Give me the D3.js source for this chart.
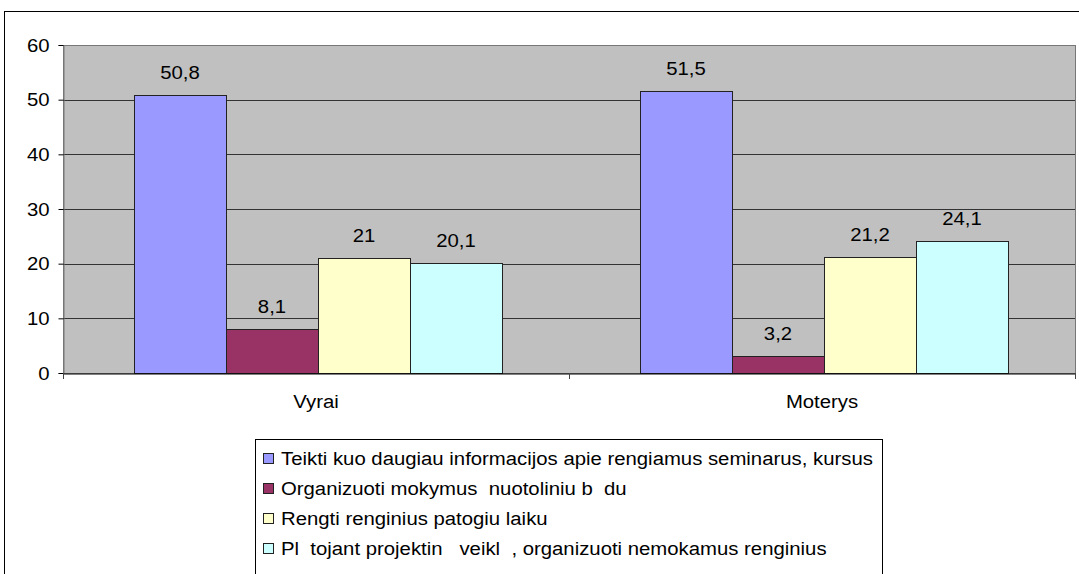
<!DOCTYPE html>
<html>
<head>
<meta charset="utf-8">
<script src="https://cdn.jsdelivr.net/npm/d3@7"></script>
<style>
  body { margin: 0; background: #fff; }
  text { font-family: "Liberation Sans", Arial, sans-serif; fill: #000; white-space: pre; }
</style>
</head>
<body>
<svg id="mysvg" width="1079" height="574"></svg>
<script>
// data
const categories = ["Vyrai", "Moterys"];
const seriesNames = [
  "Teikti kuo daugiau informacijos apie rengiamus seminarus, kursus",
  "Organizuoti mokymus  nuotoliniu b  du",
  "Rengti renginius patogiu laiku",
  "Pl  tojant projektin   veikl  , organizuoti nemokamus renginius"
];
const vyraiValues = [50.8, 8.1, 21, 20.1];
const moterysValues = [51.5, 3.2, 21.2, 24.1];
const yTicks = [0, 10, 20, 30, 40, 50, 60];
const colors = ["#9999ff", "#993366", "#ffffcc", "#ccffff"];

const values = [vyraiValues, moterysValues];
const stretch = 1.13;   // the original text is a bit wider than Liberation Sans

// place a text at (x,y) with horizontal stretch
function placeText(sel, fx, fy) {
  sel.attr("x", 0).attr("y", 0)
    .attr("transform", function(d, i) {
      return "translate(" + fx(d, i) + "," + fy(d, i) + ") scale(" + stretch + ",1)";
    });
}

var svg = d3.select("#mysvg");

// outer chart border
svg.append("rect")
  .attr("x", 4.5).attr("y", 11.5)
  .attr("width", 1100).attr("height", 600)
  .attr("fill", "none").attr("stroke", "#000");

const plot = { left: 63, right: 1075, top: 45, bottom: 373 };

var x0 = d3.scaleBand()
  .domain(categories)
  .range([plot.left, plot.right]);

var x1 = d3.scaleBand()
  .domain(d3.range(seriesNames.length))
  .range([71, 71 + 368]);

var y = d3.scaleLinear().domain([0, 60]).range([plot.bottom, plot.top]);

// plot background
svg.append("rect")
  .attr("x", plot.left + 0.5).attr("y", plot.top + 0.5)
  .attr("width", plot.right - plot.left).attr("height", plot.bottom - plot.top)
  .attr("fill", "#c0c0c0")
  .attr("stroke", "#777");

// gridlines
svg.append("g")
  .selectAll("line")
  .data(yTicks.filter(d => d > 0 && d < 60))
  .enter().append("line")
  .attr("x1", plot.left).attr("x2", plot.right)
  .attr("y1", d => Math.round(y(d)) + 0.5)
  .attr("y2", d => Math.round(y(d)) + 0.5)
  .attr("stroke", "#333");

// y axis
var yAxis = svg.append("g")
  .attr("transform", "translate(" + (plot.left + 0.5) + ",0)")
  .call(d3.axisLeft(y).tickValues(yTicks).tickSize(5).tickPadding(8));
yAxis.select(".domain").attr("stroke", "#777");
yAxis.selectAll(".tick line").attr("stroke", "#000");
yAxis.selectAll("text")
  .style("font-size", "18px")
  .attr("fill", "#000")
  .attr("dy", "0.35em")
  .call(placeText, () => -14, () => 0);

// bars
var groups = svg.append("g")
  .selectAll("g")
  .data(categories)
  .enter().append("g")
  .attr("transform", d => "translate(" + x0(d) + ",0)");

groups.selectAll("rect")
  .data((d, i) => values[i].map((v, j) => ({ v: v, j: j })))
  .enter().append("rect")
  .attr("x", d => Math.round(x1(d.j)) + 0.5)
  .attr("y", d => Math.round(y(d.v)) + 0.5)
  .attr("width", x1.bandwidth())
  .attr("height", d => Math.round(y(0)) - Math.round(y(d.v)))
  .attr("fill", d => colors[d.j])
  .attr("stroke", "#222")
  .attr("stroke-width", 1);

groups.selectAll("text")
  .data((d, i) => values[i].map((v, j) => ({ v: v, j: j })))
  .enter().append("text")
  .attr("text-anchor", "middle")
  .style("font-size", "18px")
  .text(d => String(d.v).replace(".", ","))
  .call(placeText, d => x1(d.j) + x1.bandwidth() / 2, d => y(d.v) - 16);

// x axis
var xAxis = svg.append("g")
  .attr("transform", "translate(0," + (plot.bottom + 0.5) + ")")
  .call(d3.axisBottom(x0).tickSize(0).tickPadding(22));
xAxis.select(".domain").attr("stroke", "#000");
xAxis.selectAll("text")
  .style("font-size", "18px")
  .attr("fill", "#000")
  .attr("dy", "0.71em")
  .call(placeText, () => 0, () => 22);

// category boundary ticks
svg.append("g")
  .selectAll("line")
  .data([plot.left, x0(categories[1]), plot.right])
  .enter().append("line")
  .attr("x1", d => Math.round(d) + 0.5).attr("x2", d => Math.round(d) + 0.5)
  .attr("y1", plot.bottom).attr("y2", plot.bottom + 6)
  .attr("stroke", "#444");

// legend
var legend = svg.append("g");
legend.append("rect")
  .attr("x", 255.5).attr("y", 439.5)
  .attr("width", 627).attr("height", 200)
  .attr("fill", "#fff").attr("stroke", "#000");

var item = legend.selectAll("g")
  .data(seriesNames)
  .enter().append("g")
  .attr("transform", (d, i) => "translate(263," + (458 + i * 30) + ")");

item.append("rect")
  .attr("x", 0.5).attr("y", -4.5)
  .attr("width", 10).attr("height", 10)
  .attr("fill", (d, i) => colors[i])
  .attr("stroke", "#222");

item.append("text")
  .style("font-size", "18px")
  .text(d => d)
  .call(placeText, () => 18, () => 7);
</script>
</body>
</html>
